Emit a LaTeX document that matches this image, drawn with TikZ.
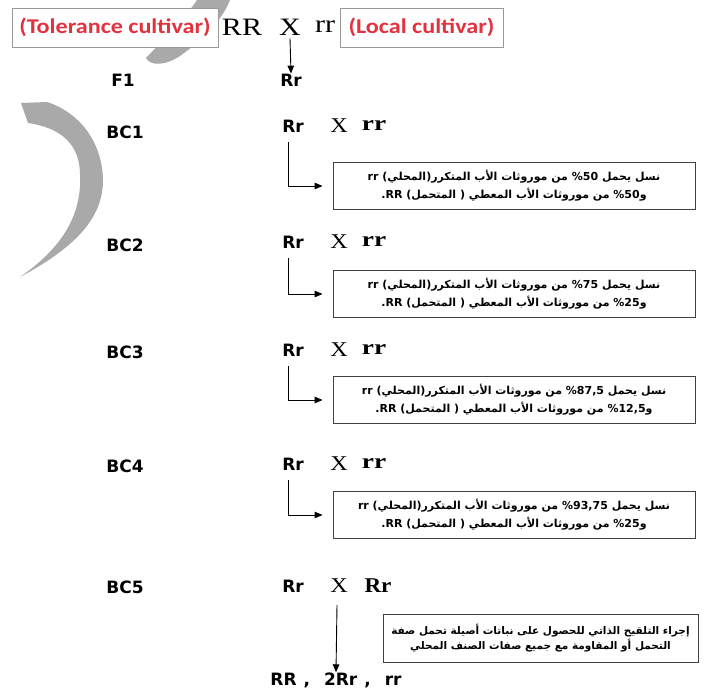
\documentclass[tikz,border=0pt]{standalone}
\usepackage{fontspec}
\setmainfont{Liberation Serif}
\newfontfamily\arabicfont[Script=Arabic]{DejaVu Sans}
\newfontfamily\sansb{DejaVu Sans}
\newfontfamily\calib{Carlito}
\TeXXeTstate=1
\usetikzlibrary{arrows.meta}
\definecolor{redtxt}{HTML}{E3323F}
\definecolor{greyblob}{HTML}{A9A9A9}
\tikzset{
  lbl/.style={font=\sansb\bfseries\fontsize{17}{17}\selectfont, inner sep=0pt},
  gen/.style={font=\sansb\bfseries\fontsize{17}{17}\selectfont, inner sep=0pt},
  crossx/.style={font=\fontsize{21}{21}\selectfont, inner sep=0pt},
  rrb/.style={font=\bfseries\fontsize{21}{21}\selectfont, inner sep=0pt},
  toplet/.style={font=\fontsize{25}{25}\selectfont, inner sep=0pt},
  cultbox/.style={draw=black!40, line width=0.8pt, fill=white, text=redtxt,
     font=\calib\bfseries\fontsize{21}{21}\selectfont, inner sep=0pt},
  note/.style={draw=black!75, line width=0.8pt, fill=white, minimum width=362pt,
     minimum height=47pt, align=center, inner sep=0pt,
     font=\arabicfont\bfseries\fontsize{11}{18}\selectfont},
  conn/.style={-{Triangle[length=8pt,width=6.5pt]}, line width=0.9pt},
}
\begin{document}
\begin{tikzpicture}[x=1pt,y=-1pt]
\useasboundingbox (0,0) rectangle (705,694);
\fill[white] (0,0) rectangle (705,694);
% grey strokes
\fill[greyblob] (197,0) -- (230,0) .. controls (222,20) and (205,38) .. (180,56)
  .. controls (165,66) and (150,66) .. (146,58) .. controls (165,38) and (185,18) .. cycle;
\fill[greyblob] (21,103) -- (47,102) .. controls (78,112) and (102,140) .. (103,180)
  .. controls (103,215) and (80,245) .. (20,277)
  .. controls (62,248) and (82,215) .. (80,175)
  .. controls (80,145) and (62,128) .. (28,123) -- cycle;
% top row
\node[cultbox, minimum width=206pt, minimum height=39pt] (tol) at (115,27.5) {\scalebox{1.15}[1]{(Tolerance cultivar)}};
\node[cultbox, minimum width=163pt, minimum height=39pt] (loc) at (421.5,27.5) {\scalebox{1.15}[1]{(Local cultivar)}};
\node[toplet] (pRR) at (242,27) {\scalebox{1.2}[1]{RR}};
\node[toplet] (pX) at (290,27) {\scalebox{1.2}[1]{X}};
\node[toplet] (prr) at (325,27) {\scalebox{1.2}[1]{rr}};
\node[gen] (f1g) at (291,80) {Rr};
\node[lbl] (f1) at (123,80) {F1};
\draw[conn] (pX.south) ++(0,3) coordinate (a0) (a0) -- (f1g.north);
% backcross rows
\foreach \i/\ry/\ly in {1/126/132, 2/242/245, 3/350/352, 4/464/466, 5/586/587}{
  \node[lbl] (bc\i) at (125,\ly) {BC\i};
  \node[gen] (g\i) at (293,\ry) {Rr};
  \node[crossx] (x\i) at (339,\ry) {\scalebox{1.15}[1]{X}};
}
\foreach \i/\ry in {1/126, 2/242, 3/350, 4/464}{
  \node[rrb] (r\i) at (374,\ry) {\scalebox{1.3}[1]{rr}};
}
\node[rrb] (r5) at (378,586) {\scalebox{1.1}[1]{Rr}};
% notes
\node[note] (n1) at (514,186) {\beginR نسل يحمل \%50 من موروثات الأب المتكرر(المحلي) rr\endR\\
  \beginR و\kern0pt\%50 من موروثات الأب المعطي ( المتحمل) RR\kern0pt.\endR};
\node[note] (n2) at (514,294) {\beginR نسل يحمل \%75 من موروثات الأب المتكرر(المحلي) rr\endR\\
  \beginR و\kern0pt\%25 من موروثات الأب المعطي ( المتحمل) RR\kern0pt.\endR};
\node[note] (n3) at (514,400) {\beginR نسل يحمل \%87,5 من موروثات الأب المتكرر(المحلي) rr\endR\\
  \beginR و\kern0pt\%12,5 من موروثات الأب المعطي ( المتحمل) RR\kern0pt.\endR};
\node[note] (n4) at (514,515) {\beginR نسل يحمل \%93,75 من موروثات الأب المتكرر(المحلي) rr\endR\\
  \beginR و\kern0pt\%25 من موروثات الأب المعطي ( المتحمل) RR\kern0pt.\endR};
\node[note, minimum width=315pt, minimum height=48pt, font=\arabicfont\bfseries\fontsize{10.5}{15}\selectfont] (n5) at (540.5,638)
  {\beginR إجراء التلقيح الذاتي للحصول على نباتات أصيلة تحمل صفة\endR\\
   \beginR التحمل أو المقاومة مع جميع صفات الصنف المحلي\endR};
% bracket connectors
\foreach \i in {1,2,3,4}{
  \draw[conn] (g\i.south) ++(-5,10) coordinate (c\i) (c\i) |- ([xshift=-10pt]n\i.west);
}
\node[gen] (res) at (336,680) {RR\hspace{7pt},\hspace{14pt}2Rr\hspace{7pt},\hspace{14pt}rr};
\draw[conn] (x5.south) ++(-2,12) coordinate (c5) (c5) -- (res.north);
\end{tikzpicture}
\end{document}
